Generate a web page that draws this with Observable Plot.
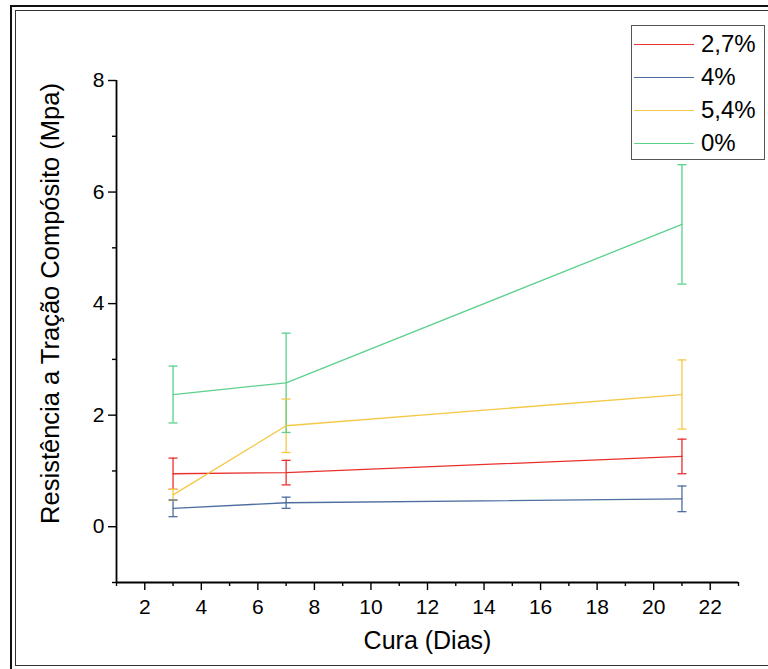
<!DOCTYPE html>
<html><head><meta charset="utf-8">
<script src="https://cdn.jsdelivr.net/npm/d3@7"></script>
<script src="https://cdn.jsdelivr.net/npm/@observablehq/plot@0.6"></script>
<style>
html,body{margin:0;padding:0;background:#fff;width:768px;height:669px;overflow:hidden;font-family:"Liberation Sans",Arial,sans-serif;}
#wrap{position:relative;width:768px;height:669px;}
#wrap svg{position:absolute;left:0;top:0;}
.frame1{position:absolute;left:10px;top:5px;width:790px;height:700px;border:2.5px solid #111;box-sizing:border-box;}
.frame2{position:absolute;left:15px;top:10px;width:790px;height:656px;border:1px solid #333;box-sizing:border-box;}
#legend{position:absolute;left:631px;top:25px;width:134px;height:135px;border:1.5px solid #555;box-sizing:border-box;background:#fff;}
.row{position:absolute;left:0;height:30px;display:flex;align-items:center;}
.row .ln{width:60px;height:0;border-top:1.3px solid;margin-left:2px;}
.row span{margin-left:7px;font-size:24px;color:#000;}
</style></head>
<body><div id="wrap"><div class="frame1"></div><div class="frame2"></div></div>
<script>
const days = [3, 7, 21];
const seriesNames = ["2,7%", "4%", "5,4%", "0%"];
const seriesColors = ["#e8302c", "#4d6e9e", "#f6c847", "#5cd08c"];
const mean27 = [0.95, 0.97, 1.26];
const err27 = [0.28, 0.22, 0.31];
const mean4 = [0.33, 0.43, 0.50];
const err4 = [0.15, 0.10, 0.23];
const mean54 = [0.57, 1.81, 2.37];
const err54 = [0.10, 0.48, 0.62];
const mean0 = [2.37, 2.58, 5.42];
const err0 = [0.51, 0.89, 1.07];
const xTicks = [2, 4, 6, 8, 10, 12, 14, 16, 18, 20, 22];
const xMinor = [1, 3, 5, 7, 9, 11, 13, 15, 17, 19, 21, 23];
const yTicks = [0, 2, 4, 6, 8];
const yMinor = [-1, 1, 3, 5, 7];
const xLabel = "Cura (Dias)";
const yLabel = "Resistência a Tração Compósito (Mpa)";

const means = [mean27, mean4, mean54, mean0];
const errs = [err27, err4, err54, err0];
const data = [];
seriesNames.forEach((s, i) => days.forEach((d, j) => data.push({s, x: d, y: means[i][j], lo: means[i][j] - errs[i][j], hi: means[i][j] + errs[i][j]})));

const cap = {draw(ctx) { ctx.moveTo(-4.5, 0); ctx.lineTo(4.5, 0); }};

const chart = Plot.plot({
  width: 768, height: 669,
  marginLeft: 116, marginRight: 30, marginTop: 80, marginBottom: 87,
  style: {background: "transparent", fontFamily: "Liberation Sans, Arial, sans-serif", color: "#000"},
  x: {domain: [1, 23]},
  y: {domain: [-1, 8]},
  color: {domain: seriesNames, range: seriesColors},
  marks: [
    Plot.axisX({ticks: xMinor, tickSize: 4, text: null, strokeWidth: 1.4, label: null}),
    Plot.axisX({ticks: xTicks, tickSize: 8, text: null, strokeWidth: 1.4, label: null}),
    Plot.axisY({ticks: yMinor, tickSize: 4, text: null, strokeWidth: 1.4, label: null}),
    Plot.axisY({ticks: yTicks, tickSize: 8, text: null, strokeWidth: 1.4, label: null}),
    Plot.text(xTicks, {x: d => d, frameAnchor: "bottom", lineAnchor: "middle", dy: 25, fontSize: 21, fill: "#000"}),
    Plot.text(yTicks, {y: d => d, frameAnchor: "left", textAnchor: "end", dx: -12, fontSize: 21, fill: "#000"}),
    Plot.ruleX([1], {stroke: "#000", strokeWidth: 1.8}),
    Plot.ruleY([-1], {stroke: "#000", strokeWidth: 1.8}),
    Plot.ruleX(data, {x: "x", y1: "lo", y2: "hi", stroke: "s", strokeWidth: 1.3}),
    Plot.dot(data, {x: "x", y: "lo", symbol: cap, r: 4, stroke: "s", strokeWidth: 1.3}),
    Plot.dot(data, {x: "x", y: "hi", symbol: cap, r: 4, stroke: "s", strokeWidth: 1.3}),
    Plot.line(data, {x: "x", y: "y", z: "s", stroke: "s", strokeWidth: 1.3}),
    Plot.text([xLabel], {frameAnchor: "bottom", dy: 66, fontSize: 25, fill: "#000"}),
    Plot.text([yLabel], {frameAnchor: "left", textAnchor: "middle", rotate: -90, dx: -66, dy: -28, fontSize: 25.5, fill: "#000"})
  ]
});
document.getElementById("wrap").appendChild(chart);

const leg = document.createElement("div");
leg.id = "legend";
seriesNames.forEach((s, i) => {
  const r = document.createElement("div");
  r.className = "row";
  r.style.top = (3 + i * 33) + "px";
  const l = document.createElement("div");
  l.className = "ln";
  l.style.borderTopColor = seriesColors[i];
  const t = document.createElement("span");
  t.textContent = s;
  r.appendChild(l); r.appendChild(t);
  leg.appendChild(r);
});
document.getElementById("wrap").appendChild(leg);
</script></body></html>
